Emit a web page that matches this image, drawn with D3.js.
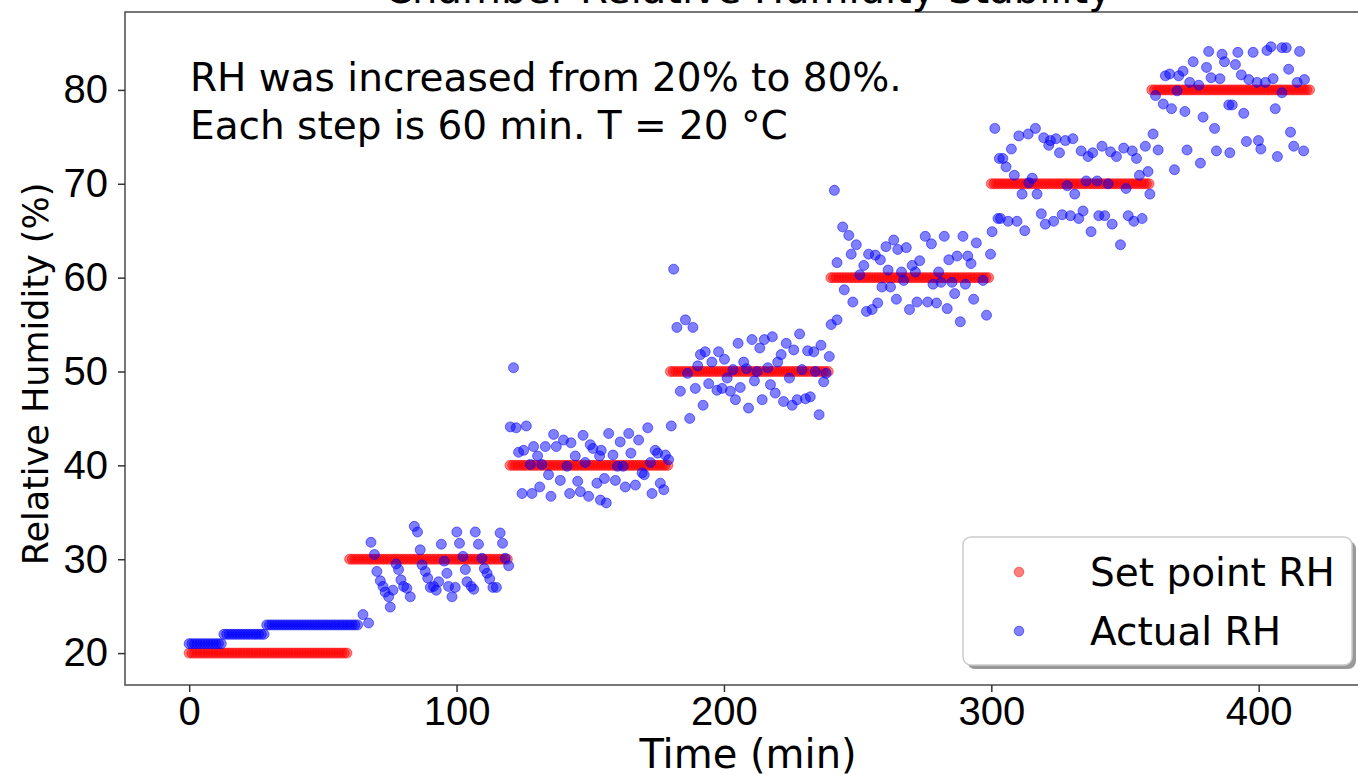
<!DOCTYPE html>
<html>
<head>
<meta charset="utf-8">
<script src="https://cdn.jsdelivr.net/npm/d3@7"></script>
<style>
  body { margin: 0; background: #fff; }
  svg { display: block; font-family: "DejaVu Sans", sans-serif; }
  .axis-tick-label text { font-size: 40px; fill: #000; }
  .axis-tick-label path { display: none; }
  .axis-tick-label line { stroke: #333; stroke-width: 1.5; }
</style>
</head>
<body>
<div id="chart"></div>
<script>
// set point: one level per 60 min step
const stepStart = [0, 60, 120, 180, 240, 300, 360];
const setPointRH = [20, 30, 40, 50, 60, 70, 80];
const stepLength = 60;

// first hour the sensor sat on whole numbers
const runStart = [0, 13, 29];
const runEnd = [12, 28, 63];
const runRH = [21, 22, 23];

// the rest of the readings, [time (min), RH (%)]
const actualPoints = [
  [65.0,24.1],[67.1,23.2],
  [68.0,31.8],[69.3,30.5],[70.2,28.7],[71.5,27.7],[72.5,27.1],[73.3,26.5],[74.6,26.0],[75.2,24.9],[76.2,26.7],[77.4,29.5],
  [78.3,28.9],[79.2,27.8],[80.2,27.1],[81.4,26.9],[82.7,26.0],[84.2,33.5],[85.4,32.9],[86.4,31.0],[87.1,29.4],[88.3,28.7],
  [89.2,28.0],[90.2,27.0],[91.4,27.1],[92.4,26.7],[93.3,27.6],[94.3,31.6],[95.4,29.8],[96.4,28.5],[97.0,27.1],[98.3,26.0],
  [99.5,27.0],[100.1,32.9],[101.1,31.7],[102.4,30.3],[103.3,28.9],[103.9,27.6],[105.5,27.1],[106.4,26.8],[107.0,32.9],
  [108.2,31.6],[109.5,30.1],[110.4,29.0],[111.4,28.5],[112.4,27.9],[113.6,27.0],[114.9,27.0],[116.3,32.8],[117.2,31.7],
  [118.2,30.1],[119.5,29.3],
  [120.1,44.1],[121.3,50.4],[122.3,44.0],[123.2,41.4],[124.5,37.0],[125.1,41.6],[126.1,44.2],[127.6,40.1],[128.2,37.0],
  [128.8,42.0],[130.3,41.0],[131.1,37.7],[131.9,40.1],[133.2,42.0],[134.4,39.0],[135.3,36.7],[136.3,43.3],[137.3,42.0],
  [138.8,38.4],[140.0,42.7],[141.3,39.9],[142.3,37.0],[142.8,42.4],[144.4,41.0],[145.3,38.3],[146.3,37.2],[147.3,43.2],
  [148.1,40.3],[149.4,36.7],[150.0,42.2],[151.0,41.8],[152.5,38.1],[153.5,41.0],[153.8,36.3],[154.1,41.6],[155.3,38.6],
  [156.0,36.0],[156.9,43.4],[158.5,41.1],[159.4,38.4],[160.2,39.9],[161.2,42.5],[162.3,39.9],[163.1,37.7],[164.4,43.4],
  [165.2,41.3],[166.9,37.9],[168.1,42.7],[169.4,39.2],[170.2,39.0],[171.5,44.0],[172.5,40.3],[173.1,37.0],[174.3,41.6],
  [175.2,41.3],[176.2,38.1],[177.5,37.4],[178.1,41.1],[179.3,40.6],[180.3,44.2],
  [181.2,60.9],[182.4,54.7],[183.7,47.9],[185.6,55.5],[186.4,49.8],[187.2,45.0],[188.4,54.7],[189.3,48.2],[190.2,50.6],
  [191.2,51.8],[192.2,46.4],[193.0,52.1],[194.3,48.7],[195.5,51.0],[197.4,48.0],[198.0,52.1],[199.3,48.2],[200.2,51.3],
  [201.2,49.3],[202.4,47.9],[203.4,50.2],[204.3,47.0],[205.3,53.0],[206.1,48.3],[207.4,51.0],[208.4,50.3],[209.2,46.1],
  [210.5,53.4],[211.4,49.0],[212.4,50.0],[213.4,52.5],[214.3,47.0],[215.1,53.4],[216.4,50.4],[217.4,48.6],[218.1,53.7],
  [219.2,47.7],[220.1,51.0],[221.4,51.8],[222.3,46.8],[223.3,53.0],[224.5,49.3],[225.5,46.4],[226.1,52.3],[227.4,47.0],
  [228.3,54.0],[229.2,50.2],[230.5,47.1],[231.3,52.2],[232.3,47.3],[233.6,52.1],[234.2,50.0],[235.6,45.4],[236.3,52.8],
  [237.3,48.9],[238.2,49.8],[239.4,51.6],
  [240.1,55.0],[241.3,69.3],[242.3,61.6],[242.3,55.5],[244.4,65.4],[245.0,58.7],[246.7,64.5],[247.6,62.5],[248.2,57.4],
  [249.5,63.5],[250.8,60.3],[252.3,61.3],[253.3,56.4],[254.1,62.5],[255.4,56.6],[256.6,62.4],[257.5,57.3],[258.5,61.9],
  [259.1,59.0],[260.6,63.3],[261.4,60.8],[262.3,59.0],[263.5,64.0],[264.5,57.7],[265.0,63.0],[266.4,60.6],[267.2,59.7],
  [268.2,63.2],[269.4,56.6],[270.4,61.3],[271.6,60.6],[272.2,57.4],[273.2,61.8],[275.3,64.4],[276.2,57.4],[277.6,63.6],
  [278.2,59.3],[279.5,57.3],[280.3,60.6],[281.2,59.5],[282.4,64.4],[283.5,56.7],[284.1,61.9],[285.3,59.5],[286.3,58.3],
  [287.2,62.3],[288.4,55.3],[289.4,64.4],[290.3,59.3],[291.2,62.3],[292.4,61.5],[293.4,57.7],[294.4,63.7],[296.9,59.7],
  [298.2,56.0],[299.7,62.5],
  [300.3,64.9],[301.3,75.9],[302.5,66.3],[303.0,72.7],[303.4,66.3],[304.3,72.7],[305.5,71.8],[306.3,66.0],[307.5,73.7],
  [308.6,70.9],[309.6,66.0],[310.3,75.1],[311.5,68.9],[312.5,65.0],[313.8,75.3],[314.0,70.1],[315.3,70.6],[316.5,75.9],
  [317.1,68.9],[318.7,66.8],[319.6,74.9],[320.2,65.7],[321.5,74.1],[322.1,74.6],[323.3,66.0],[324.2,74.8],[325.5,73.3],
  [326.5,66.7],[327.7,74.6],[328.4,69.8],[329.6,66.6],[330.5,74.8],[331.2,68.9],[332.7,66.3],[333.6,73.5],[334.3,67.1],
  [335.5,70.3],[336.2,72.9],[337.3,64.9],[337.9,73.3],[339.6,70.3],[340.2,66.6],[341.4,74.0],[342.4,66.6],[343.7,70.0],
  [344.6,73.4],[345.2,65.7],[346.8,72.9],[348.3,63.5],[349.5,73.8],[350.4,69.5],[351.2,66.6],[352.7,73.5],[353.3,66.0],
  [354.3,72.7],[355.4,70.9],[356.4,66.3],[357.6,74.0],[358.6,71.3],[359.3,68.9],
  [360.5,75.3],[361.4,79.4],[362.4,73.6],[364.3,78.5],[365.1,81.5],[366.7,81.7],[367.4,78.0],[368.5,71.5],[369.5,79.9],
  [370.1,81.5],[371.7,82.0],[372.4,77.7],[373.2,73.6],[374.2,80.8],[375.5,83.0],[377.6,80.5],[378.2,72.2],[379.2,77.1],
  [380.5,82.4],[381.3,84.1],[382.2,81.3],[383.5,75.9],[384.2,73.5],[385.5,81.2],[386.3,83.8],[387.2,83.0],[388.8,78.4],
  [389.2,73.3],[390.1,78.4],[391.3,82.7],[392.2,84.0],[393.5,81.6],[394.4,77.5],[395.4,74.5],[396.3,81.1],[397.9,84.0],
  [399.4,80.8],[399.9,74.6],[400.8,73.7],[402.5,80.8],[403.1,84.2],[404.6,84.6],[405.4,81.2],[406.2,78.0],[407.0,72.9],
  [408.7,84.5],[408.7,79.7],[410.3,84.5],[411.2,82.2],[411.9,75.5],[413.1,74.0],[414.4,80.8],[415.3,84.1],[416.8,73.5],
  [417.1,81.1]
];

const xTicks = [0, 100, 200, 300, 400];
const yTicks = [20, 30, 40, 50, 60, 70, 80];
const seriesNames = ["Set point RH", "Actual RH"];
const seriesColors = ["red", "blue"];

const width = 1358;
const height = 774;
const plot = { left: 125, top: 12, right: 1371, bottom: 685 };

const svg = d3.select("#chart")
    .append("svg")
    .attr("width", width)
    .attr("height", height);

const xscale = d3.scaleLinear()
    .domain([-24, 442])
    .range([plot.left, plot.right]);

const yscale = d3.scaleLinear()
    .domain([16.6, 88.3])
    .range([plot.bottom, plot.top]);

// build the two series
const setData = [];
stepStart.forEach(function(s, i) {
    for (let m = 0; m < stepLength; m++) {
        setData.push([s + m, setPointRH[i]]);
    }
});

const actualData = [];
runStart.forEach(function(s, i) {
    for (let m = s; m <= runEnd[i]; m++) {
        actualData.push([m, runRH[i]]);
    }
});
actualPoints.forEach(function(p) { actualData.push(p); });

function drawDots(data, color) {
    svg.append("g")
        .selectAll("circle")
        .data(data)
        .enter()
        .append("circle")
        .attr("cx", function(d) { return xscale(d[0]); })
        .attr("cy", function(d) { return yscale(d[1]); })
        .attr("r", 5)
        .attr("fill", color)
        .attr("fill-opacity", 0.5)
        .attr("stroke", color)
        .attr("stroke-opacity", 0.5)
        .attr("stroke-width", 1);
}

drawDots(setData, seriesColors[0]);
drawDots(actualData, seriesColors[1]);

// frame
svg.append("rect")
    .attr("x", plot.left)
    .attr("y", plot.top)
    .attr("width", plot.right - plot.left)
    .attr("height", plot.bottom - plot.top)
    .attr("fill", "none")
    .attr("stroke", "#555")
    .attr("stroke-width", 1.6);

// axes
svg.append("g")
    .attr("class", "axis-tick-label")
    .attr("transform", "translate(0," + plot.bottom + ")")
    .call(d3.axisBottom(xscale).tickValues(xTicks).tickSize(7).tickPadding(5));

svg.append("g")
    .attr("class", "axis-tick-label")
    .attr("transform", "translate(" + plot.left + ",0)")
    .call(d3.axisLeft(yscale).tickValues(yTicks).tickSize(7).tickPadding(10));

svg.append("text")
    .attr("x", 748)
    .attr("y", 768)
    .style("text-anchor", "middle")
    .style("font-size", "40px")
    .text("Time (min)");

svg.append("text")
    .attr("transform", "translate(48,374) rotate(-90)")
    .style("text-anchor", "middle")
    .style("font-size", "35px")
    .text("Relative Humidity (%)");

// title, mostly cut off at the top
svg.append("text")
    .attr("x", 748)
    .attr("y", 3)
    .style("text-anchor", "middle")
    .style("font-size", "40px")
    .text("Chamber Relative Humidity Stability");

// note in the corner
const note = ["RH was increased from 20% to 80%.", "Each step is 60 min. T = 20 °C"];
svg.append("g")
    .selectAll("text")
    .data(note)
    .enter()
    .append("text")
    .attr("x", 190)
    .attr("y", function(d, i) { return 91 + i * 48; })
    .style("font-size", "39px")
    .text(function(d) { return d; });

// legend
const legend = svg.append("g").attr("transform", "translate(963,537)");
legend.append("rect")
    .attr("x", 4).attr("y", 4)
    .attr("width", 389).attr("height", 128)
    .attr("rx", 8)
    .attr("fill", "#999");
legend.append("rect")
    .attr("width", 389).attr("height", 128)
    .attr("rx", 8)
    .attr("fill", "#fff")
    .attr("stroke", "#ccc")
    .attr("stroke-width", 1.5);

seriesNames.forEach(function(name, i) {
    legend.append("circle")
        .attr("cx", 56)
        .attr("cy", 35 + i * 59)
        .attr("r", 4.8)
        .attr("fill", seriesColors[i])
        .attr("fill-opacity", 0.5)
        .attr("stroke", seriesColors[i])
        .attr("stroke-opacity", 0.5);
    legend.append("text")
        .attr("x", 127)
        .attr("y", 35 + i * 59)
        .attr("dy", "0.36em")
        .style("font-size", "39px")
        .text(name);
});
</script>
</body>
</html>
